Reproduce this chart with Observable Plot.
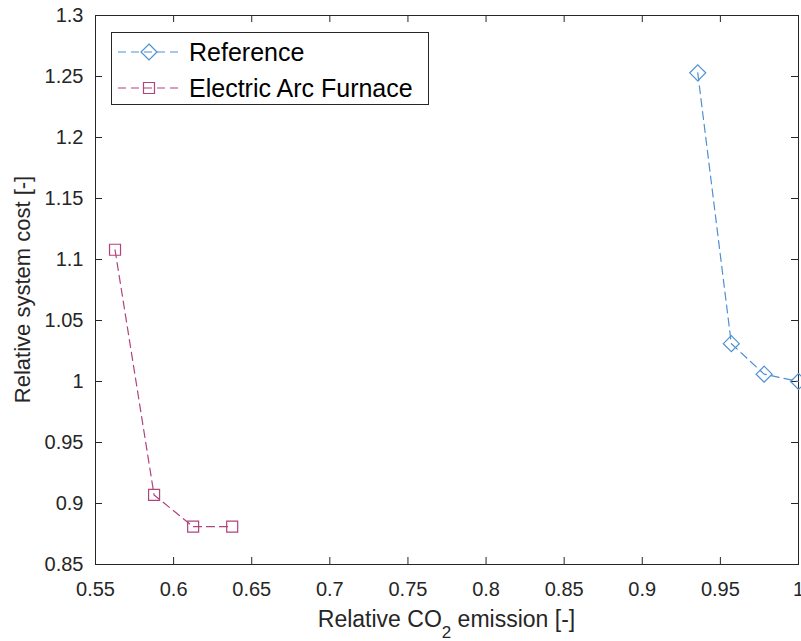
<!DOCTYPE html>
<html>
<head>
<meta charset="utf-8">
<script src="https://cdn.jsdelivr.net/npm/d3@7"></script>
<script src="https://cdn.jsdelivr.net/npm/@observablehq/plot@0.6"></script>
<style>
  html, body { margin: 0; padding: 0; background: #fff; }
  #chart { width: 801px; height: 641px; }
  svg { font-family: "Liberation Sans", Arial, Helvetica, sans-serif; }
</style>
</head>
<body>
<div id="chart"></div>
<script>
// ---- data ----
const seriesNames = ["Reference", "Electric Arc Furnace"];
const refCO2 = [0.9355, 0.957, 0.978, 1.0];
const refCost = [1.253, 1.031, 1.006, 1.0];
const eafCO2 = [0.5625, 0.5875, 0.6125, 0.6375];
const eafCost = [1.108, 0.907, 0.881, 0.881];
const xTicks = [0.55, 0.6, 0.65, 0.7, 0.75, 0.8, 0.85, 0.9, 0.95, 1];
const yTicks = [0.85, 0.9, 0.95, 1, 1.05, 1.1, 1.15, 1.2, 1.25, 1.3];
const xLabel = ["Relative CO", "2", " emission [-]"];
const yLabel = "Relative system cost [-]";

// ---- styles ----
const blue = "#4d90d3";
const magenta = "#b0437e";
const axisColor = "#262626";
const W = 801, H = 641;
const mL = 95, mR = 3, mT = 15, mB = 77;
const innerH = H - mT - mB;
const innerW = W - mL - mR;
const tickLen = 7;

const refData = refCO2.map((x, i) => ({x, y: refCost[i]}));
const eafData = eafCO2.map((x, i) => ({x, y: eafCost[i]}));
const fmt = d3.format("~g");

const chart = Plot.plot({
  width: W,
  height: H,
  marginLeft: mL,
  marginRight: mR,
  marginTop: mT,
  marginBottom: mB,
  style: {fontFamily: '"Liberation Sans", Arial, Helvetica, sans-serif', background: "#fff", overflow: "visible"},
  x: {domain: [0.55, 1]},
  y: {domain: [0.85, 1.3]},
  marks: [
    Plot.frame({stroke: axisColor, strokeWidth: 1}),
    // inward ticks: bottom, top, left, right
    Plot.tickX(xTicks, {x: d => d, insetTop: innerH - tickLen, stroke: axisColor}),
    Plot.tickX(xTicks, {x: d => d, insetBottom: innerH - tickLen, stroke: axisColor}),
    Plot.tickY(yTicks, {y: d => d, insetRight: innerW - tickLen, stroke: axisColor}),
    Plot.tickY(yTicks, {y: d => d, insetLeft: innerW - tickLen, stroke: axisColor}),
    Plot.axisX(xTicks, {tickSize: 0, tickPadding: 17, fontSize: 20, tickFormat: fmt, label: null, color: axisColor}),
    Plot.axisY(yTicks, {tickSize: 0, tickPadding: 12, fontSize: 20, tickFormat: fmt, label: null, color: axisColor}),
    Plot.line(refData, {x: "x", y: "y", stroke: blue, strokeWidth: 1.2, strokeDasharray: "8,5"}),
    Plot.dot(refData, {x: "x", y: "y", symbol: "diamond2", r: 7.2, stroke: blue, fill: "none", strokeWidth: 1.2}),
    Plot.line(eafData, {x: "x", y: "y", stroke: magenta, strokeWidth: 1.2, strokeDasharray: "8,5"}),
    Plot.dot(eafData, {x: "x", y: "y", symbol: "square", r: 6.2, stroke: magenta, fill: "none", strokeWidth: 1.2})
  ]
});

document.getElementById("chart").appendChild(chart);
const svg = d3.select(chart);

// axis titles
const xt = svg.append("text")
  .attr("x", mL + innerW / 2)
  .attr("y", 627)
  .attr("text-anchor", "middle")
  .attr("font-size", 23)
  .attr("fill", axisColor);
xt.append("tspan").text(xLabel[0]);
xt.append("tspan").attr("font-size", 17).attr("dy", 11).text(xLabel[1]);
xt.append("tspan").attr("dy", -11).text(xLabel[2]);

svg.append("text")
  .attr("transform", `translate(30, ${mT + innerH / 2}) rotate(-90)`)
  .attr("text-anchor", "middle")
  .attr("font-size", 22)
  .attr("fill", axisColor)
  .text(yLabel);

// legend
const lg = svg.append("g").attr("text-anchor", "start");
lg.append("rect")
  .attr("x", 111.5).attr("y", 32.5)
  .attr("width", 317).attr("height", 72)
  .attr("fill", "#fff").attr("stroke", axisColor).attr("stroke-width", 1);
const items = [
  {name: seriesNames[0], color: blue, sym: d3.symbolDiamond2, size: Math.PI * 7.2 * 7.2, cy: 52},
  {name: seriesNames[1], color: magenta, sym: d3.symbolSquare, size: Math.PI * 6.2 * 6.2, cy: 88}
];
items.forEach(it => {
  lg.append("line")
    .attr("x1", 118).attr("x2", 178)
    .attr("y1", it.cy).attr("y2", it.cy)
    .attr("stroke", it.color).attr("stroke-width", 1.2)
    .attr("stroke-dasharray", "8,5");
  lg.append("path")
    .attr("d", d3.symbol(it.sym, it.size)())
    .attr("transform", `translate(149, ${it.cy})`)
    .attr("fill", "none").attr("stroke", it.color).attr("stroke-width", 1.2);
  lg.append("text")
    .attr("x", 189).attr("y", it.cy)
    .attr("dy", "0.35em")
    .attr("text-anchor", "start")
    .attr("font-size", 25)
    .attr("fill", "#000")
    .text(it.name);
});
</script>
</body>
</html>
